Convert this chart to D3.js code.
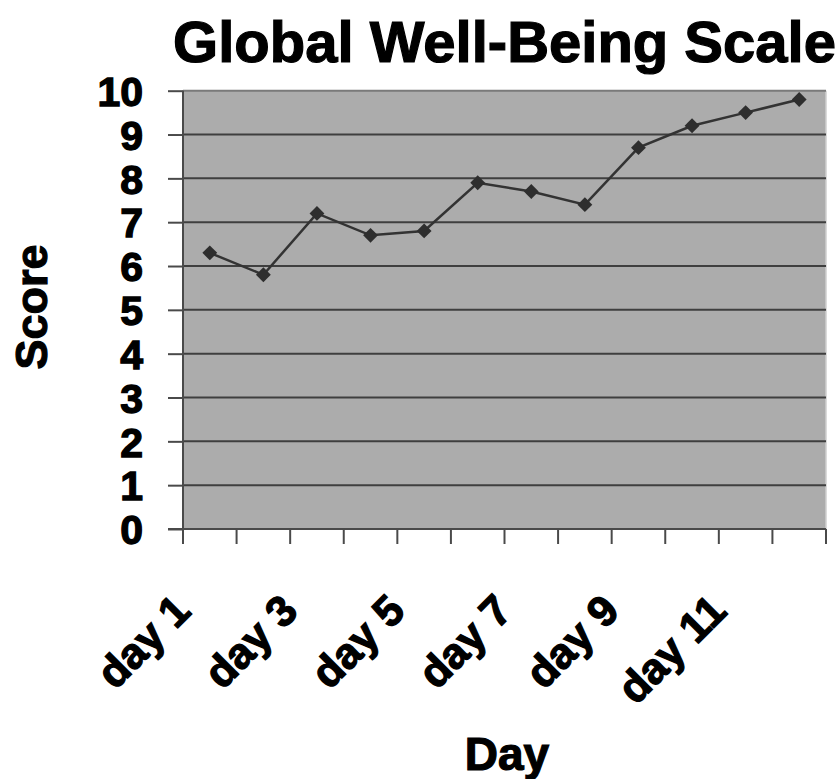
<!DOCTYPE html>
<html>
<head>
<meta charset="utf-8">
<script src="https://cdn.jsdelivr.net/npm/d3@7"></script>
<style>
  html, body { margin: 0; padding: 0; background: #ffffff; }
  svg { display: block; }
  text { font-family: "Liberation Sans", Arial, Helvetica, sans-serif; font-weight: bold; fill: #000; }
</style>
</head>
<body>
<svg id="chart" width="838" height="779"></svg>
<script>
const days = ["day 1", "day 2", "day 3", "day 4", "day 5", "day 6", "day 7", "day 8", "day 9", "day 10", "day 11", "day 12"];
const scores = [6.3, 5.8, 7.2, 6.7, 6.8, 7.9, 7.7, 7.4, 8.7, 9.2, 9.5, 9.8];
const yTickValues = [0, 1, 2, 3, 4, 5, 6, 7, 8, 9, 10];
const xLabelDays = ["day 1", "day 3", "day 5", "day 7", "day 9", "day 11"];
const titleText = "Global Well-Being Scale";
const yTitle = "Score";
const xTitle = "Day";

const W = 838, H = 779;
const m = { left: 183, top: 90.7, right: 12, bottom: 250 };
const svg = d3.select("#chart");

const x = d3.scaleBand().domain(days).range([m.left, W - m.right]);
const y = d3.scaleLinear().domain([0, 10]).range([H - m.bottom, m.top]);

const x0 = x.range()[0], x1 = x.range()[1];
const yb = y(0), yt = y(10);

// plot background
svg.append("rect")
  .attr("x", x0).attr("y", yt)
  .attr("width", x1 - x0).attr("height", yb - yt)
  .attr("fill", "#acacac");

// light right border
svg.append("line")
  .attr("x1", x1).attr("x2", x1).attr("y1", yt).attr("y2", yb)
  .attr("stroke", "#cfcfcf").attr("stroke-width", 1.5);

// gridlines
svg.append("g").selectAll("line")
  .data(yTickValues.filter(v => v > 0))
  .join("line")
  .attr("x1", x0).attr("x2", x1)
  .attr("y1", d => y(d)).attr("y2", d => y(d))
  .attr("stroke", d => d === 10 ? "#7a7a7a" : "#3f3f3f")
  .attr("stroke-width", 2);

// y axis ticks and labels
const yAxis = d3.axisLeft(y).tickValues(yTickValues).tickSize(15).tickPadding(25);
const gy = svg.append("g").attr("transform", `translate(${x0},0)`).call(yAxis);
gy.select(".domain").remove();
gy.selectAll(".tick line").attr("stroke", "#4a4a4a").attr("stroke-width", 2);
gy.selectAll(".tick text")
  .attr("font-size", 41)
  .attr("font-family", "Liberation Sans, Arial, sans-serif")
  .attr("font-weight", "bold")
  .attr("fill", "#000")
  .attr("stroke", "#000")
  .attr("stroke-width", 1.3)
  .attr("dy", "0.36em");

// x axis baseline
svg.append("line")
  .attr("x1", x0 - 15).attr("x2", x1).attr("y1", yb).attr("y2", yb)
  .attr("stroke", "#4a4a4a").attr("stroke-width", 2);
// y axis line (extends below)
svg.append("line")
  .attr("x1", x0).attr("x2", x0).attr("y1", yt).attr("y2", yb + 15)
  .attr("stroke", "#4a4a4a").attr("stroke-width", 2);

// category boundary ticks
const boundaries = days.map(d => x(d)).concat([x1]);
svg.append("g").selectAll("line")
  .data(boundaries.slice(1))
  .join("line")
  .attr("x1", d => d).attr("x2", d => d)
  .attr("y1", yb).attr("y2", yb + 15)
  .attr("stroke", "#4a4a4a").attr("stroke-width", 2);

// x labels (rotated)
svg.append("g").selectAll("text")
  .data(xLabelDays)
  .join("text")
  .attr("transform", d => `translate(${x(d) + x.bandwidth() / 2 - 17},${yb + 84}) rotate(-45)`)
  .attr("text-anchor", "end")
  .attr("font-size", 43)
  .attr("stroke", "#000")
  .attr("stroke-width", 1.3)
  .text(d => d);

// line series
const pts = days.map((d, i) => [x(d) + x.bandwidth() / 2, y(scores[i])]);
svg.append("path")
  .attr("d", d3.line()(pts))
  .attr("fill", "none")
  .attr("stroke", "#333333")
  .attr("stroke-width", 2.5);

// diamond markers
svg.append("g").selectAll("path")
  .data(pts)
  .join("path")
  .attr("transform", d => `translate(${d[0]},${d[1]}) rotate(45)`)
  .attr("d", d3.symbol(d3.symbolSquare, 110)())
  .attr("fill", "#2e2e2e");

// titles
svg.append("text")
  .attr("x", (x0 + x1) / 2).attr("y", 62)
  .attr("text-anchor", "middle")
  .attr("font-size", 58)
  .attr("stroke", "#000")
  .attr("stroke-width", 1.2)
  .text(titleText);

svg.append("text")
  .attr("transform", `translate(47,307) rotate(-90)`)
  .attr("text-anchor", "middle")
  .attr("font-size", 45)
  .attr("stroke", "#000")
  .attr("stroke-width", 1.2)
  .text(yTitle);

svg.append("text")
  .attr("x", 507).attr("y", 770)
  .attr("text-anchor", "middle")
  .attr("font-size", 46)
  .attr("stroke", "#000")
  .attr("stroke-width", 1.2)
  .text(xTitle);
</script>
</body>
</html>
